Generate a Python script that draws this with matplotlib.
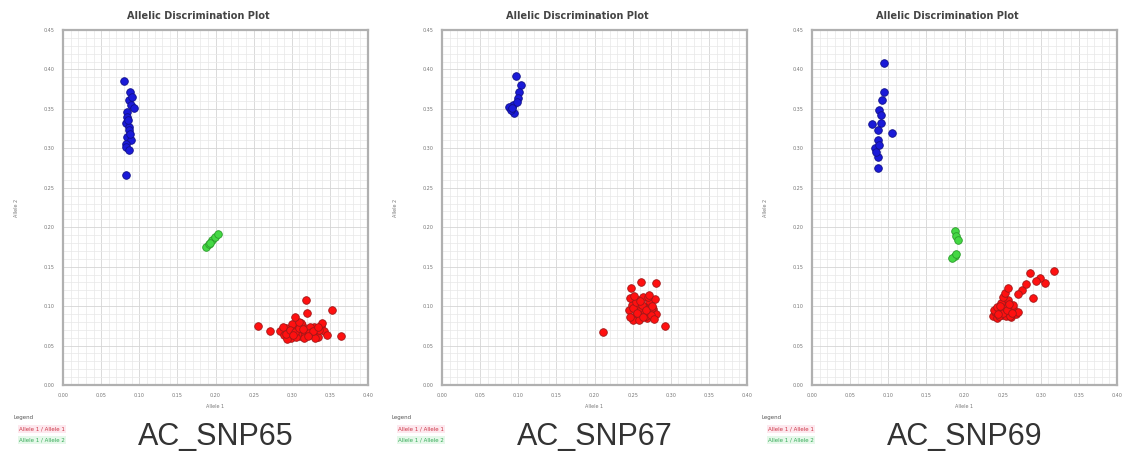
import matplotlib
matplotlib.use("Agg")
import matplotlib.pyplot as plt
from matplotlib.ticker import AutoMinorLocator

# SNP names under each panel
snp_names = ["AC_SNP65", "AC_SNP67", "AC_SNP69"]

# --- AC_SNP65 ---
snp65_blue_x = [0.080, 0.088, 0.087, 0.089, 0.093, 0.084, 0.084, 0.083, 0.087, 0.087,
                0.084, 0.089, 0.083, 0.083, 0.087, 0.083, 0.091, 0.085, 0.088]
snp65_blue_y = [0.385, 0.372, 0.361, 0.355, 0.351, 0.346, 0.340, 0.332, 0.327, 0.323,
                0.314, 0.311, 0.306, 0.302, 0.298, 0.266, 0.365, 0.336, 0.318]
snp65_green_x = [0.187, 0.191, 0.195, 0.199, 0.203, 0.193]
snp65_green_y = [0.175, 0.179, 0.184, 0.188, 0.192, 0.180]
snp65_red_x = [0.285, 0.290, 0.293, 0.296, 0.299, 0.302, 0.305, 0.308, 0.311, 0.314,
               0.317, 0.320, 0.323, 0.326, 0.329, 0.332, 0.335, 0.338, 0.342, 0.346,
               0.288, 0.294, 0.300, 0.306, 0.312, 0.318, 0.324, 0.330, 0.336, 0.340,
               0.292, 0.298, 0.304, 0.310, 0.316, 0.322, 0.328, 0.334, 0.301, 0.309,
               0.315, 0.321, 0.256, 0.271, 0.319, 0.353, 0.364, 0.304, 0.320]
snp65_red_y = [0.068, 0.063, 0.072, 0.066, 0.060, 0.074, 0.065, 0.070, 0.062, 0.076,
               0.067, 0.071, 0.064, 0.069, 0.073, 0.066, 0.061, 0.075, 0.068, 0.064,
               0.073, 0.058, 0.077, 0.061, 0.079, 0.063, 0.074, 0.060, 0.070, 0.078,
               0.065, 0.070, 0.067, 0.072, 0.059, 0.066, 0.068, 0.073, 0.064, 0.080,
               0.071, 0.062, 0.075, 0.069, 0.108, 0.095, 0.062, 0.086, 0.091]

# --- AC_SNP67 ---
snp67_blue_x = [0.097, 0.104, 0.101, 0.100, 0.093, 0.088, 0.095, 0.091, 0.099, 0.092]
snp67_blue_y = [0.392, 0.380, 0.372, 0.364, 0.355, 0.353, 0.345, 0.349, 0.359, 0.351]
snp67_green_x = []
snp67_green_y = []
snp67_red_x = [0.245, 0.249, 0.253, 0.257, 0.261, 0.265, 0.269, 0.273, 0.277, 0.280,
               0.247, 0.251, 0.255, 0.259, 0.263, 0.267, 0.271, 0.275, 0.279, 0.246,
               0.250, 0.254, 0.258, 0.262, 0.266, 0.270, 0.274, 0.278, 0.252, 0.260,
               0.268, 0.276, 0.256, 0.264, 0.272,
               0.211, 0.261, 0.281, 0.248, 0.293]
snp67_red_y = [0.095, 0.102, 0.088, 0.108, 0.092, 0.099, 0.085, 0.104, 0.096, 0.090,
               0.110, 0.083, 0.100, 0.094, 0.112, 0.087, 0.106, 0.098, 0.109, 0.086,
               0.097, 0.105, 0.082, 0.101, 0.093, 0.111, 0.089, 0.084, 0.113, 0.107,
               0.095, 0.100, 0.091, 0.086, 0.114,
               0.067, 0.131, 0.129, 0.123, 0.075]

# --- AC_SNP69 ---
snp69_blue_x = [0.095, 0.095, 0.092, 0.088, 0.079, 0.091, 0.105, 0.086, 0.082, 0.086,
                0.086, 0.090, 0.087, 0.084, 0.088]
snp69_blue_y = [0.408, 0.372, 0.361, 0.349, 0.331, 0.332, 0.320, 0.311, 0.301, 0.289,
                0.275, 0.342, 0.323, 0.295, 0.304]
snp69_green_x = [0.187, 0.189, 0.191, 0.187, 0.183, 0.189]
snp69_green_y = [0.195, 0.189, 0.184, 0.164, 0.161, 0.166]
snp69_red_x = [0.237, 0.240, 0.243, 0.246, 0.249, 0.252, 0.255, 0.258, 0.261, 0.264,
               0.267, 0.270, 0.239, 0.242, 0.245, 0.248, 0.251, 0.254, 0.257, 0.260,
               0.263, 0.244, 0.250, 0.256, 0.262, 0.253, 0.247, 0.259,
               0.318, 0.286, 0.305, 0.290, 0.257, 0.299, 0.276, 0.281, 0.294, 0.270]
snp69_red_y = [0.087, 0.092, 0.085, 0.096, 0.089, 0.101, 0.088, 0.094, 0.086, 0.098,
               0.090, 0.093, 0.095, 0.099, 0.088, 0.104, 0.091, 0.097, 0.108, 0.087,
               0.102, 0.090, 0.112, 0.095, 0.091, 0.117, 0.100, 0.103,
               0.145, 0.142, 0.129, 0.110, 0.123, 0.136, 0.120, 0.128, 0.132, 0.115]

panels = [
    (snp65_blue_x, snp65_blue_y, snp65_green_x, snp65_green_y, snp65_red_x, snp65_red_y),
    (snp67_blue_x, snp67_blue_y, snp67_green_x, snp67_green_y, snp67_red_x, snp67_red_y),
    (snp69_blue_x, snp69_blue_y, snp69_green_x, snp69_green_y, snp69_red_x, snp69_red_y),
]

x_ticks = [0.0, 0.05, 0.1, 0.15, 0.2, 0.25, 0.3, 0.35, 0.4]
y_ticks = [0.0, 0.05, 0.1, 0.15, 0.2, 0.25, 0.3, 0.35, 0.4, 0.45]
legend_labels = ["Allele 1 / Allele 1", "Allele 1 / Allele 2"]

W, H = 1125, 462
fig = plt.figure(figsize=(W / 100, H / 100), dpi=100)
fig.patch.set_facecolor("white")

ax_left = [63, 442, 812]
ax_w, ax_top, ax_bot = 305, 30, 385

for i, (bx, by, gx, gy, rx, ry) in enumerate(panels):
    L = ax_left[i]
    ax = fig.add_axes([L / W, 1 - ax_bot / H, ax_w / W, (ax_bot - ax_top) / H])
    ax.set_xlim(0, 0.4)
    ax.set_ylim(0, 0.45)
    ax.set_xticks(x_ticks)
    ax.set_yticks(y_ticks)
    ax.xaxis.set_minor_locator(AutoMinorLocator(5))
    ax.yaxis.set_minor_locator(AutoMinorLocator(5))
    ax.grid(True, which="major", color="#d4d4d4", lw=0.6)
    ax.grid(True, which="minor", color="#e8e8e8", lw=0.5)
    ax.set_axisbelow(True)
    ax.tick_params(which="both", length=0, labelsize=3.5, labelcolor="#777777", pad=6)
    for s in ax.spines.values():
        s.set_color("#b0b0b0")
        s.set_linewidth(1.6)

    ax.scatter(bx, by, s=30, c="#1a1ad8", edgecolors="#10108a", linewidths=0.6, zorder=3)
    if gx:
        ax.scatter(gx, gy, s=30, c="#44d844", edgecolors="#2a9a2a", linewidths=0.6, zorder=3)
    ax.scatter(rx, ry, s=30, c="#ff1010", edgecolors="#a01818", linewidths=0.6, zorder=3)

    # title sits a little left of the panel centre, as in the original
    ax.set_title("Allelic Discrimination Plot", fontsize=7, fontweight="bold",
                 color="#444444", pad=8, x=0.445)
    ax.set_xlabel("Allele 1", fontsize=3.5, color="#777777", labelpad=4)
    ax.set_ylabel("Allele 2", fontsize=3.5, color="#777777", labelpad=18)

    # small legend block under each panel
    lx = L - 50
    fig.text(lx / W, 1 - 418 / H, "Legend", fontsize=4, color="#555555", va="center")
    fig.text((lx + 6) / W, 1 - 429 / H, legend_labels[0], fontsize=4, color="#cc3344",
             va="center", bbox=dict(facecolor="#fde8ee", edgecolor="none", pad=1))
    fig.text((lx + 6) / W, 1 - 440 / H, legend_labels[1], fontsize=4, color="#33aa55",
             va="center", bbox=dict(facecolor="#e6f8ea", edgecolor="none", pad=1))

    # big SNP name
    fig.text((L + ax_w / 2) / W, 1 - 437 / H, snp_names[i], fontsize=22,
             family=["Liberation Sans", "DejaVu Sans"], color="#333333",
             ha="center", va="center")

fig.savefig("out.png", dpi=100)
